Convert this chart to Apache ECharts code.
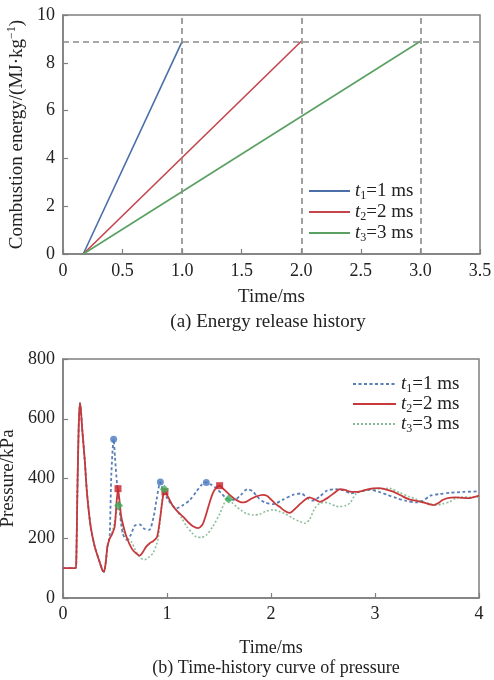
<!DOCTYPE html>
<html>
<head>
<meta charset="utf-8">
<script src="https://cdn.jsdelivr.net/npm/echarts@6/dist/echarts.min.js"></script>
<style>html,body{margin:0;padding:0;background:#fff}#c{width:494px;height:680px}</style>
</head>
<body>
<div id="c"></div>
<script>
// ---------- Panel (a): energy release ----------
const energyStart = 0.17;          // ms, ignition time
const energyMax = 8.9;             // MJ/kg
const releaseEnds = [1, 2, 3];     // ms, t1 t2 t3
const energyXTicks = [0, 0.5, 1.0, 1.5, 2.0, 2.5, 3.0, 3.5];
const energyYTicks = [0, 2, 4, 6, 8, 10];
const energyT1 = [[0.17, 0], [1.0, 8.9]];
const energyT2 = [[0.17, 0], [2.0, 8.9]];
const energyT3 = [[0.17, 0], [3.0, 8.9]];

// ---------- Panel (b): pressure history ----------
const pressXTicks = [0, 1, 2, 3, 4];
const pressYTicks = [0, 200, 400, 600, 800];
const pressCommon = [[0,100],[0.12,100],[0.128,127],[0.138,350],[0.151,573],[0.163,652],[0.172,630],[0.183,573],[0.209,462],[0.231,350],[0.266,239],[0.305,172],[0.346,127],[0.378,94],[0.394,88],[0.41,116],[0.427,172],[0.44,190]];
const pressT1 = [[0.45,215],[0.465,417],[0.487,531],[0.5,470],[0.52,380],[0.545,290],[0.575,215],[0.61,195],[0.65,210],[0.69,242],[0.74,246],[0.78,232],[0.83,228],[0.87,270],[0.9,330],[0.936,388],[0.96,360],[1.0,335],[1.05,310],[1.09,300],[1.15,310],[1.22,328],[1.28,355],[1.33,378],[1.378,387],[1.43,378],[1.475,367],[1.53,348],[1.57,334],[1.65,328],[1.71,345],[1.77,364],[1.82,358],[1.88,335],[1.94,320],[2.02,314],[2.12,330],[2.21,345],[2.29,350],[2.35,335],[2.4,326],[2.47,340],[2.54,360],[2.62,364],[2.7,360],[2.77,350],[2.85,356],[2.95,362],[3.04,355],[3.12,345],[3.21,334],[3.3,325],[3.4,320],[3.46,325],[3.53,342],[3.62,348],[3.72,352],[3.85,355],[4.0,357]];
const pressT2 = [[0.45,200],[0.47,212],[0.497,239],[0.515,320],[0.529,366],[0.545,320],[0.56,272],[0.585,235],[0.61,205],[0.66,166],[0.7,150],[0.737,142],[0.77,155],[0.8,172],[0.84,185],[0.866,190],[0.905,205],[0.935,270],[0.962,340],[0.98,355],[1.0,345],[1.03,325],[1.06,306],[1.1,290],[1.154,272],[1.2,255],[1.25,240],[1.3,234],[1.34,245],[1.379,283],[1.41,320],[1.44,350],[1.47,368],[1.506,376],[1.54,366],[1.57,356],[1.62,340],[1.667,328],[1.72,320],[1.76,322],[1.81,332],[1.86,340],[1.92,345],[1.96,342],[2.0,330],[2.04,316],[2.08,306],[2.13,292],[2.18,285],[2.23,298],[2.28,315],[2.33,330],[2.37,337],[2.42,330],[2.47,322],[2.52,330],[2.56,339],[2.61,352],[2.66,364],[2.71,362],[2.76,356],[2.81,355],[2.86,357],[2.92,363],[2.98,367],[3.04,368],[3.1,364],[3.17,357],[3.25,343],[3.33,330],[3.4,325],[3.48,318],[3.56,311],[3.61,318],[3.65,328],[3.71,335],[3.77,337],[3.84,335],[3.9,334],[3.95,338],[4.0,343]];
const pressT3 = [[0.45,200],[0.48,230],[0.51,280],[0.535,310],[0.555,270],[0.577,228],[0.62,200],[0.657,189],[0.69,165],[0.72,145],[0.75,133],[0.785,128],[0.82,135],[0.865,150],[0.9,180],[0.913,195],[0.94,280],[0.96,350],[0.975,364],[1.0,340],[1.04,315],[1.09,295],[1.14,268],[1.19,239],[1.24,218],[1.28,205],[1.33,203],[1.38,211],[1.44,239],[1.51,283],[1.555,320],[1.593,331],[1.63,318],[1.667,306],[1.72,292],[1.76,283],[1.83,278],[1.89,280],[1.95,290],[2.02,295],[2.08,290],[2.13,283],[2.21,267],[2.27,257],[2.33,250],[2.37,262],[2.42,300],[2.47,317],[2.52,320],[2.56,317],[2.62,308],[2.66,306],[2.72,310],[2.76,318],[2.82,350],[2.88,358],[2.95,364],[3.04,365],[3.14,367],[3.24,352],[3.33,339],[3.4,330],[3.46,322],[3.53,315],[3.59,311],[3.65,315],[3.72,322],[3.78,335],[3.85,338],[3.92,337],[4.0,337]];
const peaksT1 = [[0.487,531],[0.936,388],[1.378,387]];
const peaksT2 = [[0.529,366],[0.98,356],[1.506,376]];
const peaksT3 = [[0.535,310],[0.975,364],[1.593,331]];

const legendIdx = ['1', '2', '3'];
const legendDur = ['1', '2', '3'];

const FONT = 'Liberation Serif';
const TXT = '#222';
const AX = '#7f7f7f';

const chart = echarts.init(document.getElementById('c'), null, {renderer: 'canvas'});

function legendRich(fs) {
  return {
    it: {fontFamily: FONT, fontStyle: 'italic', fontSize: fs, color: TXT, lineHeight: 20},
    sub: {fontFamily: FONT, fontSize: Math.round(fs * 0.62), color: TXT, padding: [10, 0, 0, 0], lineHeight: 20},
    n: {fontFamily: FONT, fontSize: fs, color: TXT, lineHeight: 20}
  };
}
function legendFmt(name) {
  const i = Number(name.slice(1)) - 1;
  return '{it|t}{sub|' + legendIdx[i] + '}{n|=' + legendDur[i] + ' ms}';
}

const baseAxis = {
  axisLine: {show: true, lineStyle: {color: AX, width: 1.5}},
  axisTick: {show: true, inside: true, length: 5, lineStyle: {color: AX, width: 1.2}},
  splitLine: {show: false}
};

const option = {
  animation: false,
  backgroundColor: '#fff',
  grid: [
    {left: 63, top: 15, width: 417, height: 239, show: true, borderColor: AX, borderWidth: 1.5, containLabel: false, outerBoundsMode: 'none'},
    {left: 63, top: 359, width: 416, height: 239, show: true, borderColor: AX, borderWidth: 1.5, containLabel: false, outerBoundsMode: 'none'}
  ],
  xAxis: [
    Object.assign({}, baseAxis, {
      type: 'value', gridIndex: 0, min: energyXTicks[0], max: energyXTicks[energyXTicks.length - 1], interval: 0.5,
      axisLabel: {fontFamily: FONT, fontSize: 18, color: TXT, margin: 8,
        formatter: v => v === 0 ? '0' : v.toFixed(1)},
      name: 'Time/ms', nameLocation: 'middle', nameGap: 34,
      nameTextStyle: {fontFamily: FONT, fontSize: 19, color: TXT}
    }),
    Object.assign({}, baseAxis, {
      type: 'value', gridIndex: 1, min: pressXTicks[0], max: pressXTicks[pressXTicks.length - 1], interval: 1,
      axisLabel: {fontFamily: FONT, fontSize: 18, color: TXT, margin: 7},
      name: 'Time/ms', nameLocation: 'middle', nameGap: 41,
      nameTextStyle: {fontFamily: FONT, fontSize: 18, color: TXT}
    })
  ],
  yAxis: [
    Object.assign({}, baseAxis, {
      type: 'value', gridIndex: 0, min: energyYTicks[0], max: energyYTicks[energyYTicks.length - 1], interval: 2,
      axisLabel: {fontFamily: FONT, fontSize: 18, color: TXT, margin: 8},
      name: 'Combustion energy/(MJ·kg{sup|−1})', nameLocation: 'middle', nameRotate: 90, nameGap: 32,
      nameTextStyle: {fontFamily: FONT, fontSize: 19, color: TXT,
        rich: {sup: {fontFamily: FONT, fontSize: 12, color: TXT, padding: [0, 0, 9, 0]}}}
    }),
    Object.assign({}, baseAxis, {
      type: 'value', gridIndex: 1, min: pressYTicks[0], max: pressYTicks[pressYTicks.length - 1], interval: 200,
      axisLabel: {fontFamily: FONT, fontSize: 18, color: TXT, margin: 8},
      name: 'Pressure/kPa', nameLocation: 'middle', nameRotate: 90, nameGap: 41,
      nameTextStyle: {fontFamily: FONT, fontSize: 19, color: TXT}
    })
  ],
  legend: [
    {
      data: ['A1', 'A2', 'A3'], orient: 'vertical', left: 303, top: 175,
      itemWidth: 41, itemHeight: 14, itemGap: -1,
      itemStyle: {opacity: 0},
      formatter: legendFmt, textStyle: {rich: legendRich(19)},
      selectedMode: false
    },
    {
      data: ['B1', 'B2', 'B3'], orient: 'vertical', left: 347, top: 368,
      itemWidth: 43, itemHeight: 14, itemGap: -2,
      itemStyle: {opacity: 0},
      formatter: legendFmt, textStyle: {rich: legendRich(19)},
      selectedMode: false
    }
  ],
  graphic: [
    {type: 'text', x: 268, y: 322, style: {text: '(a) Energy release history', font: '19px "Liberation Serif"', fill: TXT, textAlign: 'center', textVerticalAlign: 'middle'}},
    {type: 'text', x: 276, y: 668, style: {text: '(b) Time-history curve of pressure', font: '18px "Liberation Serif"', fill: TXT, textAlign: 'center', textVerticalAlign: 'middle'}}
  ],
  series: [
    {
      name: 'A1', type: 'line', xAxisIndex: 0, yAxisIndex: 0, data: energyT1, symbol: 'none',
      lineStyle: {color: '#4a6fa8', width: 1.6}, itemStyle: {color: '#4a6fa8'},
      markLine: {
        silent: true, symbol: 'none', label: {show: false},
        lineStyle: {color: '#8a8a8a', width: 1.6, type: [6, 4]},
        data: releaseEnds.map(t => ({xAxis: t})).concat([{yAxis: energyMax}])
      },
      z: 3
    },
    {name: 'A2', type: 'line', xAxisIndex: 0, yAxisIndex: 0, data: energyT2, symbol: 'none',
      lineStyle: {color: '#c4444c', width: 1.6}, itemStyle: {color: '#c4444c'}, z: 3},
    {name: 'A3', type: 'line', xAxisIndex: 0, yAxisIndex: 0, data: energyT3, symbol: 'none',
      lineStyle: {color: '#5aa062', width: 1.6}, itemStyle: {color: '#5aa062'}, z: 3},

    {name: 'B3', type: 'line', xAxisIndex: 1, yAxisIndex: 1, data: pressCommon.concat(pressT3), symbol: 'none',
      smooth: 0.25, lineStyle: {color: '#8dbf9c', width: 1.6, type: [2, 2]}, itemStyle: {color: '#8dbf9c'}, z: 2},
    {name: 'B1', type: 'line', xAxisIndex: 1, yAxisIndex: 1, data: pressCommon.concat(pressT1), symbol: 'none',
      smooth: 0.25, lineStyle: {color: '#5a7fb8', width: 1.8, type: [3, 2.5]}, itemStyle: {color: '#5a7fb8'}, z: 3},
    {name: 'B2', type: 'line', xAxisIndex: 1, yAxisIndex: 1, data: pressCommon.concat(pressT2), symbol: 'none',
      smooth: 0.25, lineStyle: {color: '#c8393b', width: 1.8}, itemStyle: {color: '#c8393b'}, z: 4},
    {name: 'peak1', type: 'scatter', xAxisIndex: 1, yAxisIndex: 1, data: peaksT1, symbol: 'circle', symbolSize: 7,
      itemStyle: {color: '#4a78c0'}, z: 6},
    {name: 'peak2', type: 'scatter', xAxisIndex: 1, yAxisIndex: 1, data: peaksT2, symbol: 'rect', symbolSize: 7,
      itemStyle: {color: '#c8202a'}, z: 6},
    {name: 'peak3', type: 'scatter', xAxisIndex: 1, yAxisIndex: 1, data: peaksT3, symbol: 'diamond', symbolSize: 9,
      itemStyle: {color: '#3fae5a'}, z: 6}
  ]
};
chart.setOption(option);
</script>
</body>
</html>
